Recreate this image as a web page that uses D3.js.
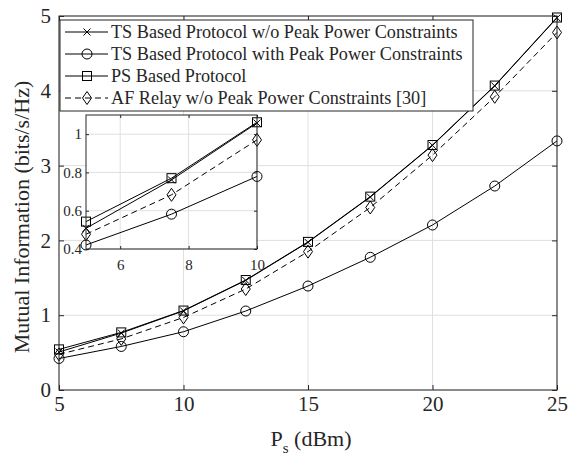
<!DOCTYPE html>
<html>
<head>
<meta charset="utf-8">
<script src="https://cdn.jsdelivr.net/npm/d3@7"></script>
<style>
  body { margin: 0; background: #fff; }
  svg text { font-family: "Liberation Serif", "Times New Roman", serif; fill: #262626; }
</style>
</head>
<body>
<div id="chart"></div>
<script>
// x positions (Ps in dBm)
var psValues = [5, 7.5, 10, 12.5, 15, 17.5, 20, 22.5, 25];
// mutual information for each protocol
var tsNoPeak   = [0.508, 0.761, 1.058, 1.465, 1.975, 2.58, 3.27, 4.065, 4.975];
var tsWithPeak = [0.421, 0.582, 0.779, 1.056, 1.39, 1.774, 2.206, 2.727, 3.33];
var psProtocol = [0.543, 0.77, 1.062, 1.47, 1.98, 2.585, 3.275, 4.07, 4.98];
var afRelay    = [0.477, 0.683, 0.97, 1.35, 1.85, 2.44, 3.14, 3.92, 4.78];
var seriesNames = ["TS Based Protocol w/o Peak Power Constraints",
                   "TS Based Protocol with Peak Power Constraints",
                   "PS Based Protocol",
                   "AF Relay w/o Peak Power Constraints [30]"];
var xTicks = [5, 10, 15, 20, 25];
var yTicks = [0, 1, 2, 3, 4, 5];
var insetXTicks = [6, 8, 10];
var insetYTicks = [0.4, 0.6, 0.8, 1];

var width = 569, height = 457;
var plot = {left: 59, right: 557, top: 16, bottom: 390};
var inset = {left: 86, right: 257, top: 115, bottom: 249};

var series = [
    {name: seriesNames[0], values: tsNoPeak, marker: "cross", dash: null},
    {name: seriesNames[1], values: tsWithPeak, marker: "circle", dash: null},
    {name: seriesNames[2], values: psProtocol, marker: "square", dash: null},
    {name: seriesNames[3], values: afRelay, marker: "diamond", dash: "6,4"}
];

var svg = d3.select("#chart").append("svg")
    .attr("width", width).attr("height", height);

function drawMarker(g, type, x, y) {
    if (type == "circle") {
        g.append("circle").attr("cx", x).attr("cy", y).attr("r", 5)
            .attr("fill", "none").attr("stroke", "#000");
    } else if (type == "square") {
        g.append("rect").attr("x", x - 4.5).attr("y", y - 4.5)
            .attr("width", 9).attr("height", 9)
            .attr("fill", "none").attr("stroke", "#000");
    } else if (type == "cross") {
        g.append("path").attr("d", "M" + (x - 3.5) + "," + (y - 3.5) + "L" + (x + 3.5) + "," + (y + 3.5)
            + "M" + (x - 3.5) + "," + (y + 3.5) + "L" + (x + 3.5) + "," + (y - 3.5))
            .attr("stroke", "#000").attr("fill", "none");
    } else {
        g.append("path").attr("d", "M" + x + "," + (y - 6.5) + "L" + (x + 4.5) + "," + y
            + "L" + x + "," + (y + 6.5) + "L" + (x - 4.5) + "," + y + "Z")
            .attr("fill", "none").attr("stroke", "#000");
    }
}

// draws one set of axes (main chart or the zoomed inset)
function drawAxes(box, xDomain, yDomain, xt, yt, opts) {
    var xScale = d3.scaleLinear().domain(xDomain).range([box.left, box.right]);
    var yScale = d3.scaleLinear().domain(yDomain).range([box.bottom, box.top]);
    var g = svg.append("g");

    g.append("rect").attr("x", box.left).attr("y", box.top)
        .attr("width", box.right - box.left).attr("height", box.bottom - box.top)
        .attr("fill", "#fff");

    // grid
    g.selectAll(".gx").data(xt).enter().append("line")
        .attr("x1", d => xScale(d)).attr("x2", d => xScale(d))
        .attr("y1", box.top).attr("y2", box.bottom)
        .attr("stroke", "#dfdfdf").attr("stroke-width", 1);
    g.selectAll(".gy").data(yt).enter().append("line")
        .attr("y1", d => yScale(d)).attr("y2", d => yScale(d))
        .attr("x1", box.left).attr("x2", box.right)
        .attr("stroke", "#dfdfdf").attr("stroke-width", 1);

    var clipId = "clip" + opts.id;
    svg.append("clipPath").attr("id", clipId).append("rect")
        .attr("x", box.left - 8).attr("y", box.top - 8)
        .attr("width", box.right - box.left + 16).attr("height", box.bottom - box.top + 16);

    var lineGen = d3.line().x(d => xScale(d[0])).y(d => yScale(d[1]));
    var dataG = g.append("g").attr("clip-path", "url(#" + clipId + ")");
    series.forEach(function (s) {
        var pts = psValues.map((p, i) => [p, s.values[i]])
            .filter(d => d[0] >= xDomain[0] && d[0] <= xDomain[1]);
        dataG.append("path").datum(pts).attr("d", lineGen)
            .attr("fill", "none").attr("stroke", "#000").attr("stroke-width", 1)
            .attr("stroke-dasharray", s.dash);
        pts.forEach(function (d) {
            drawMarker(dataG, s.marker, xScale(d[0]), yScale(d[1]));
        });
    });

    // axes with ticks inside, both sides
    var tl = opts.tickLen;
    var fmt = d3.format("~g");
    var xb = d3.axisBottom(xScale).tickValues(xt).tickSizeInner(-tl).tickSizeOuter(0).tickPadding(opts.xPad)
        .tickFormat(fmt);
    var yl = d3.axisLeft(yScale).tickValues(yt).tickSizeInner(-tl).tickSizeOuter(0).tickPadding(opts.yPad)
        .tickFormat(fmt);
    var xt2 = d3.axisTop(xScale).tickValues(xt).tickSizeInner(-tl).tickSizeOuter(0).tickFormat("");
    var yr = d3.axisRight(yScale).tickValues(yt).tickSizeInner(-tl).tickSizeOuter(0).tickFormat("");

    [[xb, "translate(0," + box.bottom + ")"], [yl, "translate(" + box.left + ",0)"],
     [xt2, "translate(0," + box.top + ")"], [yr, "translate(" + box.right + ",0)"]].forEach(function (a) {
        var ag = g.append("g").attr("transform", a[1]).call(a[0]);
        ag.select(".domain").remove();
        ag.selectAll("line").attr("stroke", "#262626");
        ag.selectAll("text").attr("font-size", opts.fontSize).attr("fill", opts.textColor)
            .attr("font-family", "Liberation Serif");
    });

    g.append("rect").attr("x", box.left).attr("y", box.top)
        .attr("width", box.right - box.left).attr("height", box.bottom - box.top)
        .attr("fill", "none").attr("stroke", "#262626").attr("stroke-width", 1);
    return g;
}

drawAxes(plot, [5, 25], [0, 5], xTicks, yTicks,
    {id: "main", tickLen: 5, fontSize: 21, xPad: 6, yPad: 8, textColor: "#262626"});

// legend
var legend = {left: 60, top: 20, width: 413, height: 91, rowH: 22};
var lg = svg.append("g");
lg.append("rect").attr("x", legend.left).attr("y", legend.top)
    .attr("width", legend.width).attr("height", legend.height)
    .attr("fill", "#fff").attr("stroke", "#262626").attr("stroke-width", 1);
series.forEach(function (s, i) {
    var cy = legend.top + 12 + i * legend.rowH;
    lg.append("line").attr("x1", legend.left + 5).attr("x2", legend.left + 48)
        .attr("y1", cy).attr("y2", cy).attr("stroke", "#000")
        .attr("stroke-dasharray", s.dash);
    drawMarker(lg, s.marker, legend.left + 27, cy);
    lg.append("text").attr("x", legend.left + 51).attr("y", cy + 6)
        .attr("font-size", 18.2).text(s.name);
});

// inset zoom
drawAxes(inset, [5, 10], [0.4, 1.1], insetXTicks, insetYTicks,
    {id: "inset", tickLen: 3, fontSize: 15, xPad: 10, yPad: 4, textColor: "#404040"});

// axis titles
svg.append("text").attr("transform", "translate(29," + ((plot.top + plot.bottom) / 2 + 14) + ") rotate(-90)")
    .attr("text-anchor", "middle").attr("font-size", 22)
    .text("Mutual Information (bits/s/Hz)");
var xl = svg.append("text").attr("x", (plot.left + plot.right) / 2 + 3).attr("y", 446)
    .attr("text-anchor", "middle").attr("font-size", 22);
xl.append("tspan").text("P");
xl.append("tspan").attr("font-size", 15).attr("dy", 7).text("s");
xl.append("tspan").attr("dy", -7).text(" (dBm)");
</script>
</body>
</html>
